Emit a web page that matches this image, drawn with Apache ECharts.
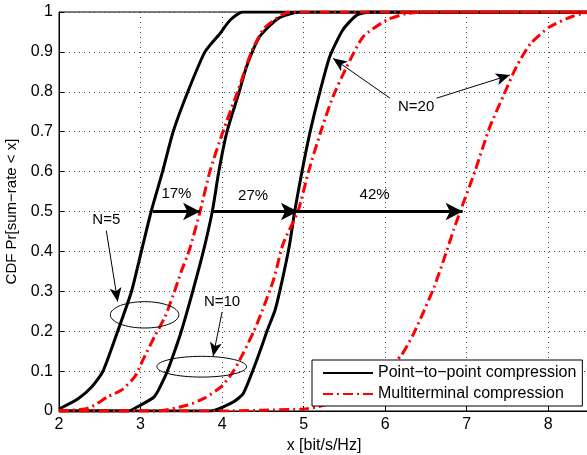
<!DOCTYPE html>
<html>
<head>
    <meta charset="utf-8">
    <script src="https://cdn.jsdelivr.net/npm/echarts@6/dist/echarts.min.js"></script>
    <style>
        body { margin: 0; background: #fff; }
        #main { width: 587px; height: 455px; }
    </style>
</head>

<body>
    <div id="main"></div>

    <script type="text/javascript">
        // CDF curves, [x, Pr] pairs
        var p2pN5 = [[2.0, 0.005], [2.23, 0.03], [2.4, 0.06], [2.54, 0.1], [2.72, 0.2], [2.89, 0.3], [3.01, 0.4],
            [3.13, 0.5], [3.27, 0.6], [3.40, 0.7], [3.58, 0.8], [3.79, 0.9], [3.97, 0.945], [4.1, 0.98], [4.25, 1.0], [8.5, 1.0]];
        var p2pN10 = [[2.0, 0], [2.85, 0.0], [2.93, 0.007], [3.17, 0.036], [3.30, 0.086], [3.38, 0.128], [3.50, 0.2],
            [3.64, 0.3], [3.77, 0.4], [3.88, 0.5], [3.96, 0.6], [4.06, 0.7], [4.21, 0.8], [4.30, 0.863], [4.46, 0.938],
            [4.69, 0.984], [4.95, 1.0], [8.5, 1.0]];
        var p2pN20 = [[2.0, 0], [3.85, 0], [4.14, 0.023], [4.26, 0.044], [4.38, 0.103], [4.50, 0.17], [4.55, 0.2],
            [4.65, 0.253], [4.74, 0.33], [4.83, 0.42], [4.89, 0.5], [4.98, 0.6], [5.08, 0.7], [5.20, 0.8], [5.32, 0.888],
            [5.48, 0.955], [5.65, 0.992], [5.81, 1.0], [8.5, 1.0]];
        var mtN5 = [[2.0, 0], [2.36, 0.007], [2.6, 0.036], [2.77, 0.053], [2.93, 0.086], [3.03, 0.128], [3.17, 0.186],
            [3.30, 0.236], [3.40, 0.29], [3.50, 0.35], [3.60, 0.404], [3.73, 0.5], [3.85, 0.6], [4.01, 0.7], [4.19, 0.8],
            [4.36, 0.9], [4.52, 0.96], [4.83, 1.0], [8.5, 1.0]];
        var mtN10 = [[2.0, 0], [3.2, 0], [3.58, 0.015], [3.79, 0.033], [3.99, 0.061], [4.14, 0.1], [4.26, 0.145],
            [4.39, 0.2], [4.49, 0.25], [4.63, 0.328], [4.75, 0.42], [4.93, 0.5], [5.06, 0.6], [5.21, 0.7], [5.36, 0.788],
            [5.53, 0.863], [5.73, 0.938], [6.02, 0.98], [6.26, 0.996], [6.5, 1.0], [8.5, 1.0]];
        var mtN20 = [[2.0, 0], [4.0, 0], [5.0, 0.005], [5.16, 0.01], [5.3, 0.018], [5.5, 0.035], [5.75, 0.06],
            [6.0, 0.1], [6.2, 0.14], [6.34, 0.19], [6.48, 0.253], [6.6, 0.31], [6.72, 0.38], [6.84, 0.454], [6.92, 0.5],
            [7.1, 0.6], [7.28, 0.71], [7.45, 0.79], [7.61, 0.863], [7.78, 0.92], [8.02, 0.963], [8.31, 0.99], [8.5, 1.0]];

        var seriesNames = ['Point\u2212to\u2212point compression', 'Multiterminal compression'];

        // thick gain arrows at Pr = 0.5: [from x, to x]
        var gainArrows = [[3.15, 3.73], [3.89, 4.93], [4.90, 6.95]];
        var gainLabels = ['17%', '27%', '42%'];
        var gainLabelPos = [[3.44, 0.543], [4.38, 0.539], [5.87, 0.541]];

        // N labels and thin pointer arrows (data coords)
        var nLabels = ['N=5', 'N=10', 'N=20'];
        var nLabelPos = [[2.58, 0.479], [4.0, 0.274], [6.38, 0.763]];
        var pointerArrows = [
            [[2.58, 0.452], [2.72, 0.274]],
            [[4.0, 0.248], [3.89, 0.137]],
            [[6.06, 0.784], [5.36, 0.884]],
            [[6.63, 0.784], [7.53, 0.842]]
        ];
        // ellipses: [cx, cy, rx, ry] in data units
        var ellipses = [[3.05, 0.241, 0.42, 0.033], [3.75, 0.111, 0.55, 0.026]];

        var myChart = echarts.init(document.getElementById('main'));
        var font = 'Liberation Sans, Arial, Helvetica, sans-serif';
        var redDash = [10, 4, 2, 4];

        function curve(name, data, color, type) {
            return {
                name: name,
                type: 'line',
                data: data,
                symbol: 'none',
                smooth: 0.2,
                lineStyle: { color: color, width: 3, type: type, cap: 'butt' },
                itemStyle: { color: color },
                z: type === 'solid' ? 3 : 4
            };
        }

        var series = [
            curve(seriesNames[0], p2pN5, '#000', 'solid'),
            curve(seriesNames[0], p2pN10, '#000', 'solid'),
            curve(seriesNames[0], p2pN20, '#000', 'solid'),
            curve(seriesNames[1], mtN5, '#ff0000', redDash),
            curve(seriesNames[1], mtN10, '#ff0000', redDash),
            curve(seriesNames[1], mtN20, '#ff0000', redDash)
        ];

        series.push({
            type: 'line',
            data: [],
            silent: true,
            markLine: {
                silent: true,
                animation: false,
                symbol: ['none', 'arrow'],
                symbolSize: [13, 17],
                label: { show: false },
                lineStyle: { color: '#000', width: 3, type: 'solid' },
                data: gainArrows.map(function (a) {
                    return [{ coord: [a[0], 0.5] }, { coord: [a[1], 0.5] }];
                })
            },
            z: 6
        });
        series.push({
            type: 'line',
            data: [],
            silent: true,
            markLine: {
                silent: true,
                animation: false,
                symbol: ['none', 'arrow'],
                symbolSize: [9, 14],
                label: { show: false },
                lineStyle: { color: '#000', width: 1, type: 'solid' },
                data: pointerArrows.map(function (a) {
                    return [{ coord: a[0] }, { coord: a[1] }];
                })
            },
            z: 6
        });

        myChart.setOption({
            animation: false,
            grid: {
                left: 59, top: 12, right: -2, bottom: 44,
                outerBoundsMode: 'none',
                containLabel: false,
                show: true, borderColor: '#000', borderWidth: 1
            },
            legend: {
                data: seriesNames,
                orient: 'vertical',
                left: 312, top: 360,
                padding: [5, 6, 4, 10],
                itemGap: 5,
                itemWidth: 50,
                itemHeight: 14,
                backgroundColor: '#fff',
                borderColor: '#000',
                borderWidth: 1,
                borderRadius: 0,
                itemStyle: { opacity: 0 },
                textStyle: { fontFamily: font, fontSize: 16, color: '#000' },
                z: 10
            },
            xAxis: {
                type: 'value',
                min: 2, max: 8.5, interval: 1,
                name: 'x [bit/s/Hz]',
                nameLocation: 'middle',
                nameGap: 23,
                nameTextStyle: { fontFamily: font, fontSize: 16, color: '#000' },
                axisLine: { lineStyle: { color: '#000' } },
                axisTick: { inside: true, length: 5, lineStyle: { color: '#000' } },
                axisLabel: { fontFamily: font, fontSize: 16, color: '#000', margin: 6, showMaxLabel: false },
                splitLine: { show: true, lineStyle: { color: '#444', type: [1, 4], width: 1 } }
            },
            yAxis: {
                type: 'value',
                min: 0, max: 1, interval: 0.1,
                name: 'CDF Pr[sum\u2212rate < x]',
                nameLocation: 'middle',
                nameGap: 39,
                nameTextStyle: { fontFamily: font, fontSize: 15, color: '#000' },
                axisLine: { show: true, lineStyle: { color: '#000' } },
                axisTick: { show: true, inside: true, length: 5, lineStyle: { color: '#000' } },
                axisLabel: { fontFamily: font, fontSize: 16, color: '#000', margin: 6 },
                splitLine: { show: true, lineStyle: { color: '#444', type: [1, 4], width: 1 } }
            },
            series: series
        });

        // annotations placed through the grid's own coordinate system
        function px(p) {
            return myChart.convertToPixel({ gridIndex: 0 }, p);
        }
        var graphics = [];
        gainLabels.forEach(function (t, i) {
            var p = px(gainLabelPos[i]);
            graphics.push({
                type: 'text', x: p[0], y: p[1], z: 20,
                style: { text: t, fontFamily: font, fontSize: 15, fill: '#000', align: 'center', verticalAlign: 'middle' }
            });
        });
        nLabels.forEach(function (t, i) {
            var p = px(nLabelPos[i]);
            graphics.push({
                type: 'text', x: p[0], y: p[1], z: 20,
                style: { text: t, fontFamily: font, fontSize: 15, fill: '#000', align: 'center', verticalAlign: 'middle' }
            });
        });
        ellipses.forEach(function (e) {
            var c = px([e[0], e[1]]);
            var r = px([e[0] + e[2], e[1] + e[3]]);
            graphics.push({
                type: 'ellipse', z: 20,
                shape: { cx: c[0], cy: c[1], rx: Math.abs(r[0] - c[0]), ry: Math.abs(c[1] - r[1]) },
                style: { fill: null, stroke: '#000', lineWidth: 1 }
            });
        });
        myChart.setOption({ graphic: graphics });
    </script>
</body>

</html>
